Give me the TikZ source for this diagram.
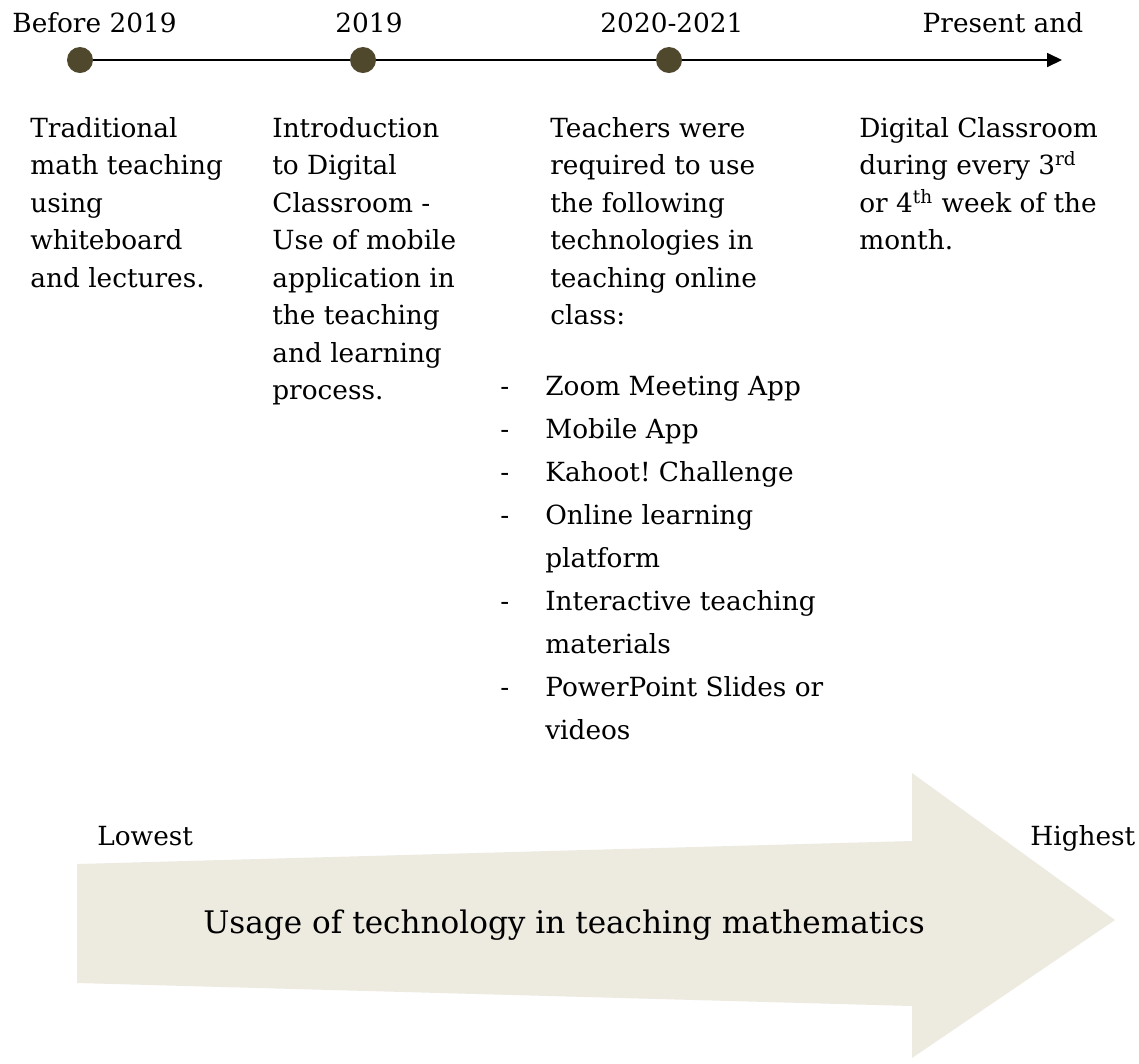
\documentclass[tikz,border=0pt]{standalone}
\usepackage{fontspec}
\setmainfont{DejaVu Serif}
\usetikzlibrary{arrows.meta}
\frenchspacing

\definecolor{dotbrown}{HTML}{4F482D}
\definecolor{arrowfill}{HTML}{EDEAE0}

\tikzset{
  dot/.style={circle, fill=dotbrown, minimum size=14.8pt, inner sep=0pt},
  tline/.style={line width=0.75pt},
  year/.style={anchor=base, inner sep=0pt, font=\fontsize{15}{21.3}\selectfont},
  col/.style={anchor=north west, align=left, inner sep=0pt, font=\fontsize{15}{21.3}\selectfont},
  tools/.style={anchor=north west, inner sep=0pt, font=\fontsize{15}{24.5}\selectfont},
  ends/.style={anchor=base west, inner sep=0pt, font=\fontsize{15}{21.3}\selectfont},
}

\begin{document}
\begin{tikzpicture}[x=0.02cm, y=-0.02cm]
          \useasboundingbox (0,0) rectangle (1139,1063);
          % wide arrow at the bottom
          \fill[arrowfill] (77,864) -- (912,841) -- (912,773) -- (1115,920) -- (912,1058) -- (912,1006) -- (77,983) -- cycle;
          \node[anchor=base, inner sep=0pt, font=\fontsize{17.7}{22}\selectfont] (usage) at (564,933) {Usage of technology in teaching mathematics};
          \node[ends] (lowest) at (97,845) {Lowest};
          \node[ends] (highest) at (1030,845) {Highest};
          %
          \node[dot] (d1) at (80,60) {};
          \node[dot] (d2) at (363,60) {};
          \node[dot] (d3) at (669,60) {};
          \coordinate (tip) at (1062,60);
          \draw[tline] (d1) -- (d2);
          \draw[tline] (d2) -- (d3);
          \draw[tline, -{Triangle[length=8.5pt, width=8pt]}] (d3) -- (tip);
          %
          \node[year] (before) at (94.5,32) {Before 2019};
          \node[year] (y2019) at (369,32) {2019};
          \node[year] (y2020) at (672,32) {2020-2021};
          \node[year] (present) at (1003,32) {Present and};
          %
          \node[col] (trad) at (30,111) {\strut Traditional\\ math teaching\\ using\\ whiteboard\\ and lectures.};
          \node[col] (intro) at (272,111) {\strut Introduction\\ to Digital\\ Classroom -\\ Use of mobile\\ application in\\ the teaching\\ and learning\\ process.};
          \node[col] (req) at (550,111) {\strut Teachers were\\ required to use\\ the following\\ technologies in\\ teaching online\\ class:};
          \node[col] (now) at (859,111) {\strut Digital Classroom\\ during every 3\textsuperscript{rd}\\ or 4\textsuperscript{th} week of the\\ month.};
          %
          \node[tools] (list) at (500,365) {\begin{tabular}{@{}p{25.6pt}@{}l@{}}
            - & Zoom Meeting App\\
            - & Mobile App\\
            - & Kahoot! Challenge\\
            - & Online learning\\
              & platform\\
            - & Interactive teaching\\
              & materials\\
            - & PowerPoint Slides or\\
              & videos
          \end{tabular}};
        \end{tikzpicture}
\end{document}
